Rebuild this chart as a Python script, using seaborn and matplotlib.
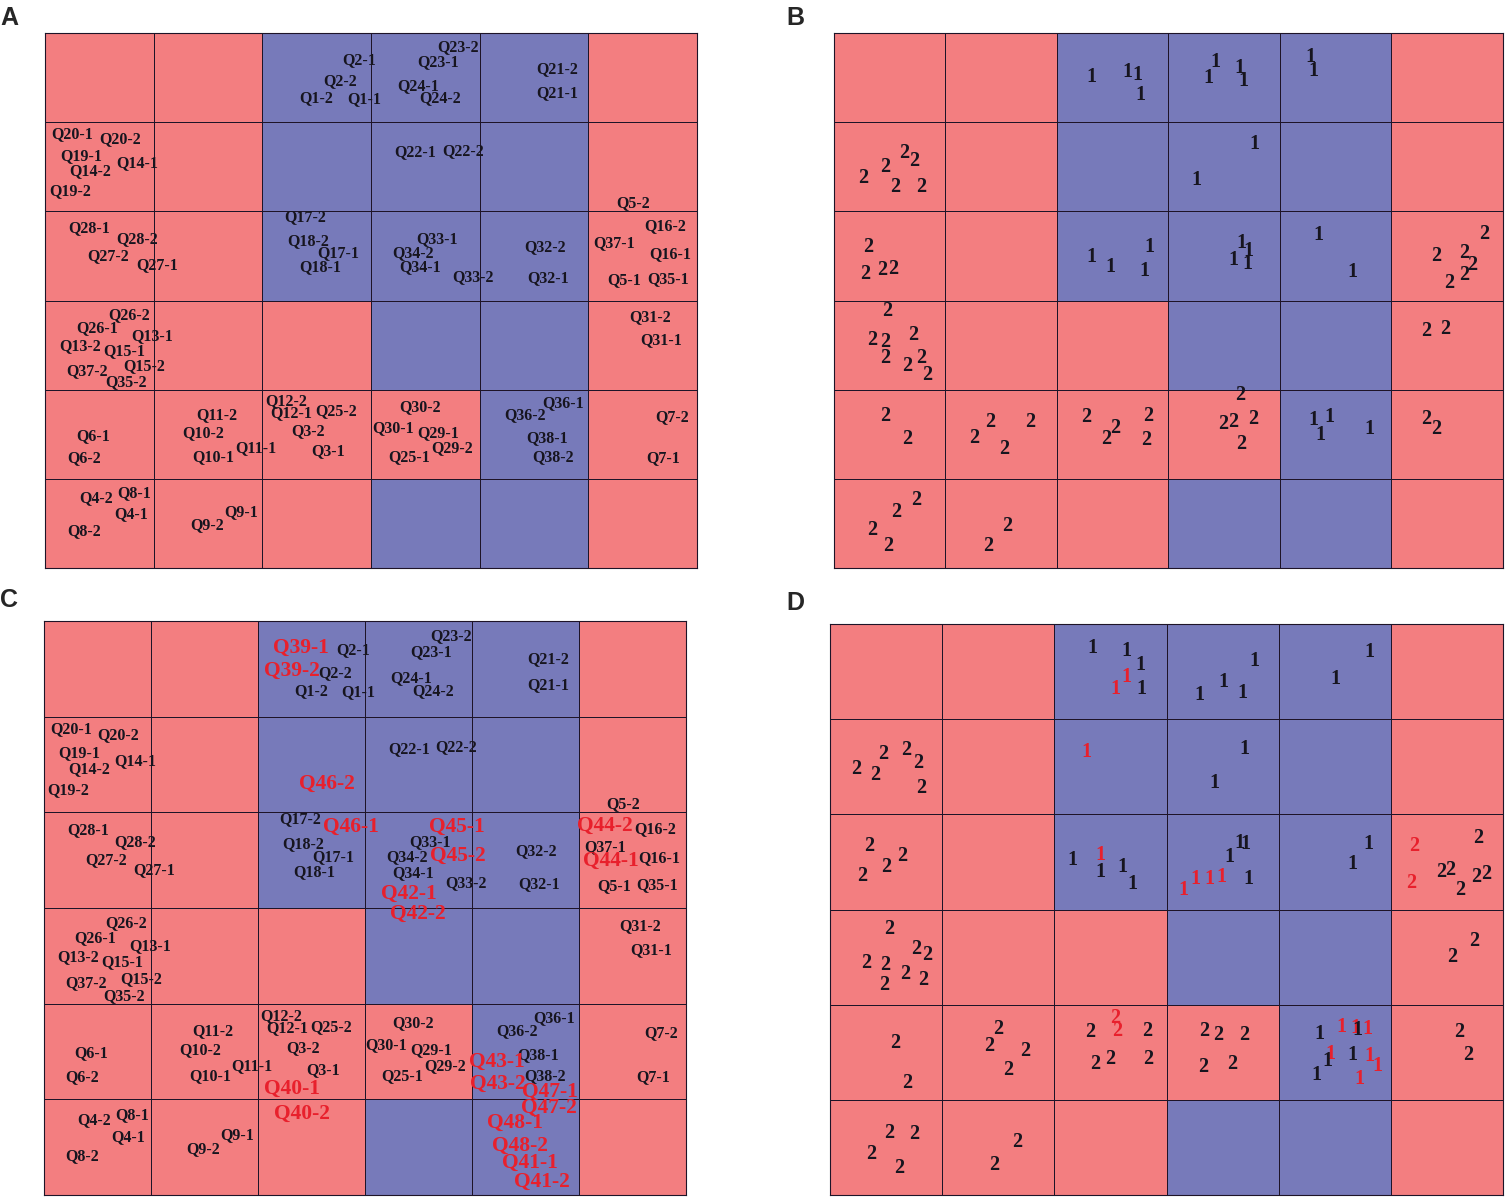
import numpy as np
import pandas as pd
import matplotlib
matplotlib.use("Agg")
import matplotlib.pyplot as plt
from matplotlib.colors import ListedColormap
import seaborn as sns

sns.set_style("white")
plt.rcParams['font.family'] = ['Liberation Serif', 'DejaVu Serif']

# ---- SOM cluster map (0 = cluster "2" pink, 1 = cluster "1" blue) ----
cluster_grid = [
    [0, 0, 1, 1, 1, 0],
    [0, 0, 1, 1, 1, 0],
    [0, 0, 1, 1, 1, 0],
    [0, 0, 0, 1, 1, 0],
    [0, 0, 0, 0, 1, 0],
    [0, 0, 0, 1, 1, 0],
]

# ---- Panel A labels (grid coordinates: column, row from top) ----
a_labels = ["Q2-1", "Q23-2", "Q23-1", "Q2-2", "Q24-1", "Q1-2", "Q1-1", "Q24-2", "Q21-2", "Q21-1",
            "Q20-1", "Q20-2", "Q19-1", "Q14-1", "Q14-2", "Q19-2", "Q22-1", "Q22-2", "Q5-2",
            "Q28-1", "Q28-2", "Q27-2", "Q27-1", "Q17-2", "Q18-2", "Q17-1", "Q18-1", "Q33-1",
            "Q34-2", "Q34-1", "Q33-2", "Q32-2", "Q32-1", "Q37-1", "Q16-2", "Q16-1", "Q5-1", "Q35-1",
            "Q26-2", "Q26-1", "Q13-1", "Q13-2", "Q15-1", "Q37-2", "Q15-2", "Q35-2", "Q31-2", "Q31-1",
            "Q12-2", "Q12-1", "Q25-2", "Q11-2", "Q10-2", "Q3-2", "Q11-1", "Q10-1", "Q3-1", "Q6-1", "Q6-2",
            "Q30-2", "Q30-1", "Q29-1", "Q29-2", "Q25-1", "Q36-1", "Q36-2", "Q38-1", "Q38-2", "Q7-2", "Q7-1",
            "Q4-2", "Q8-1", "Q4-1", "Q8-2", "Q9-1", "Q9-2"]
a_x = [2.89, 3.80, 3.62, 2.72, 3.43, 2.50, 2.94, 3.64, 4.71, 4.71,
       0.25, 0.69, 0.33, 0.85, 0.42, 0.23, 3.41, 3.85, 5.41,
       0.41, 0.85, 0.58, 1.03, 2.39, 2.42, 2.70, 2.53, 3.61,
       3.39, 3.45, 3.94, 4.60, 4.63, 5.24, 5.71, 5.75, 5.33, 5.73,
       0.77, 0.48, 0.99, 0.32, 0.73, 0.39, 0.91, 0.75, 5.57, 5.67,
       2.22, 2.27, 2.68, 1.58, 1.46, 2.42, 1.94, 1.55, 2.61, 0.44, 0.36,
       3.45, 3.20, 3.62, 3.75, 3.35, 4.77, 4.42, 4.62, 4.68, 5.77, 5.69,
       0.47, 0.82, 0.79, 0.36, 1.81, 1.49]
a_y = [0.30, 0.16, 0.33, 0.54, 0.60, 0.73, 0.74, 0.73, 0.40, 0.67,
       1.13, 1.19, 1.38, 1.46, 1.55, 1.77, 1.34, 1.32, 1.91,
       2.19, 2.31, 2.50, 2.60, 2.07, 2.33, 2.47, 2.62, 2.31,
       2.47, 2.63, 2.74, 2.40, 2.75, 2.36, 2.17, 2.48, 2.77, 2.76,
       3.16, 3.31, 3.40, 3.51, 3.57, 3.79, 3.74, 3.92, 3.19, 3.44,
       4.13, 4.26, 4.24, 4.29, 4.49, 4.46, 4.65, 4.76, 4.69, 4.52, 4.77,
       4.20, 4.43, 4.49, 4.65, 4.76, 4.15, 4.29, 4.54, 4.76, 4.31, 4.77,
       5.22, 5.16, 5.39, 5.59, 5.37, 5.52]

# ---- Panel C extra (red) labels ----
c_labels = ["Q39-1", "Q39-2", "Q46-2", "Q46-1", "Q45-1", "Q45-2", "Q44-2", "Q44-1", "Q42-1", "Q42-2",
            "Q40-1", "Q40-2", "Q43-1", "Q43-2", "Q47-1", "Q47-2", "Q48-1", "Q48-2", "Q41-1", "Q41-2"]
c_x = [2.40, 2.32, 2.64, 2.87, 3.86, 3.87, 5.24, 5.30, 3.41, 3.49,
       2.32, 2.41, 4.23, 4.24, 4.73, 4.72, 4.40, 4.45, 4.54, 4.65]
c_y = [0.28, 0.52, 1.70, 2.15, 2.15, 2.46, 2.14, 2.51, 2.85, 3.06,
       4.89, 5.15, 4.61, 4.84, 4.92, 5.09, 5.25, 5.49, 5.66, 5.86]

# ---- Panel B cluster digits ----
b_digit = (["1"] * 10 + ["2"] * 6 + ["1"] * 2 + ["2"] * 4 + ["1"] * 10 + ["2"] * 6 +
           ["2"] * 10 + ["2"] * 16 + ["1"] * 4 + ["2"] * 2 + ["2"] * 6)
b_x = [2.31, 2.63, 2.72, 2.75, 3.42, 3.36, 3.64, 3.67, 4.27, 4.30,
       0.26, 0.46, 0.63, 0.72, 0.55, 0.78, 3.77, 3.25,
       0.31, 0.28, 0.43, 0.53, 2.31, 2.48, 2.83, 2.78, 3.65, 3.72, 3.58, 3.71, 4.34, 4.65,
       5.83, 5.40, 5.65, 5.72, 5.65, 5.52,
       0.48, 0.34, 0.46, 0.71, 0.46, 0.66, 0.78, 0.84, 5.31, 5.48,
       0.46, 0.66, 1.40, 1.26, 1.76, 1.53, 2.26, 2.52, 2.44, 2.82, 2.80, 3.64, 3.49, 3.58, 3.76, 3.65,
       4.30, 4.44, 4.36, 4.80, 5.31, 5.40,
       0.74, 0.56, 0.34, 0.49, 1.55, 1.38]
b_y = [0.49, 0.44, 0.47, 0.70, 0.32, 0.51, 0.39, 0.54, 0.27, 0.43,
       1.63, 1.50, 1.35, 1.44, 1.73, 1.73, 1.24, 1.65,
       2.40, 2.70, 2.66, 2.65, 2.51, 2.62, 2.40, 2.67, 2.35, 2.44, 2.55, 2.59, 2.26, 2.68,
       2.25, 2.50, 2.47, 2.60, 2.71, 2.80,
       3.12, 3.44, 3.46, 3.39, 3.65, 3.74, 3.65, 3.83, 3.34, 3.32,
       4.30, 4.55, 4.36, 4.54, 4.36, 4.67, 4.31, 4.43, 4.55, 4.29, 4.57, 4.06, 4.39, 4.36, 4.33, 4.61,
       4.34, 4.31, 4.51, 4.44, 4.33, 4.44,
       5.24, 5.37, 5.57, 5.75, 5.53, 5.75]

# ---- Panel D cluster digits (red = added questions) ----
d_digit = ["1", "1", "1", "1", "1", "1", "1", "1", "1", "1", "1", "1",
           "2", "2", "2", "2", "2", "2", "1", "1", "1",
           "2", "2", "2", "2", "1", "1", "1", "1", "1", "1", "1", "1", "1", "1", "1", "1", "1",
           "1", "1", "2", "2", "2", "2", "2", "2", "2", "2",
           "2", "2", "2", "2", "2", "2", "2", "2", "2", "2",
           "2", "2", "2", "2", "2", "2", "2", "2", "2", "2", "2", "2", "2", "2", "2", "2", "2", "2",
           "1", "1", "1", "1", "1", "1", "1", "1", "1", "1", "1", "1", "2", "2",
           "2", "2", "2", "2", "2", "2"]
d_x = [2.34, 2.64, 2.77, 2.64, 2.54, 2.78, 3.78, 3.51, 3.29, 3.68, 4.81, 4.51,
       0.23, 0.40, 0.47, 0.68, 0.79, 0.81, 2.29, 3.69, 3.43,
       0.35, 0.29, 0.50, 0.64, 2.16, 2.41, 2.41, 2.61, 2.70, 3.65, 3.70, 3.56, 3.15, 3.26, 3.38, 3.49, 3.73,
       4.80, 4.66, 5.21, 5.18, 5.78, 5.45, 5.53, 5.62, 5.76, 5.85,
       0.53, 0.32, 0.49, 0.48, 0.77, 0.87, 0.67, 0.83, 5.55, 5.74,
       0.58, 0.69, 1.50, 1.42, 1.74, 1.59, 2.32, 2.54, 2.56, 2.83, 2.36, 2.50, 2.84, 3.34, 3.46, 3.69, 3.33, 3.59,
       4.36, 4.56, 4.68, 4.70, 4.79, 4.46, 4.43, 4.66, 4.81, 4.88, 4.34, 4.72, 5.61, 5.69,
       0.53, 0.75, 0.37, 0.62, 1.67, 1.46]
d_y = [0.25, 0.28, 0.43, 0.56, 0.68, 0.68, 0.39, 0.61, 0.75, 0.73, 0.29, 0.58,
       1.52, 1.59, 1.37, 1.32, 1.46, 1.72, 1.34, 1.31, 1.67,
       2.33, 2.65, 2.55, 2.44, 2.48, 2.43, 2.61, 2.55, 2.73, 2.30, 2.31, 2.45, 2.79, 2.68, 2.68, 2.66, 2.68,
       2.31, 2.52, 2.33, 2.72, 2.25, 2.61, 2.59, 2.80, 2.66, 2.63,
       3.21, 3.56, 3.58, 3.79, 3.42, 3.48, 3.68, 3.74, 3.50, 3.33,
       4.40, 4.82, 4.26, 4.43, 4.49, 4.69, 4.29, 4.14, 4.28, 4.28, 4.62, 4.57, 4.57, 4.28, 4.32, 4.32, 4.66, 4.62,
       4.31, 4.23, 4.25, 4.27, 4.26, 4.52, 4.59, 4.53, 4.54, 4.64, 4.74, 4.78, 4.29, 4.53,
       5.35, 5.36, 5.57, 5.72, 5.44, 5.69]
d_red = [0, 0, 0, 1, 1, 0, 0, 0, 0, 0, 0, 0,
         0, 0, 0, 0, 0, 0, 1, 0, 0,
         0, 0, 0, 0, 0, 1, 0, 0, 0, 0, 0, 0, 1, 1, 1, 1, 0,
         0, 0, 1, 1, 0, 0, 0, 0, 0, 0,
         0, 0, 0, 0, 0, 0, 0, 0, 0, 0,
         0, 0, 0, 0, 0, 0, 0, 1, 1, 0, 0, 0, 0, 0, 0, 0, 0, 0,
         0, 1, 1, 0, 1, 1, 0, 0, 1, 1, 0, 1, 0, 0,
         0, 0, 0, 0, 0, 0]

panel_letters = ["A", "B", "C", "D"]

PINK = "#F37E80"
BLUE = "#777ABA"
LINE = "#1e1428"
TXT = "#17151f"
RED = "#E8202C"

fig = plt.figure(figsize=(15.08, 11.99), dpi=100)
W, H = 1508, 1199
boxes = [(45, 33, 697, 568), (834, 33, 1503, 568), (44, 621, 686, 1195), (830, 624, 1503, 1195)]
letter_pos = [(0, 18), (786, 18), (0, 600), (786, 603)]

grid_df = pd.DataFrame(cluster_grid)
axes = []
for (x0, y0, x1, y1) in boxes:
    ax = fig.add_axes([x0 / W, 1 - y1 / H, (x1 - x0) / W, (y1 - y0) / H])
    sns.heatmap(grid_df, ax=ax, cmap=ListedColormap([PINK, BLUE]), cbar=False,
                linewidths=0.6, linecolor=LINE, xticklabels=False, yticklabels=False,
                vmin=0, vmax=1)
    ax.set_xlim(0, 6)
    ax.set_ylim(6, 0)
    for s in ax.spines.values():
        s.set_visible(True)
        s.set_color(LINE)
        s.set_linewidth(0.8)
    axes.append(ax)

axA, axB, axC, axD = axes
lab_kw = dict(ha="center", va="center", fontsize=11.5, fontweight="bold", color=TXT)
for ax in (axA, axC):
    for t, x, y in zip(a_labels, a_x, a_y):
        ax.text(x, y, t, **lab_kw)
for t, x, y in zip(c_labels, c_x, c_y):
    axC.text(x, y, t, ha="center", va="center", fontsize=15.5, fontweight="bold", color=RED)

dig_kw = dict(ha="center", va="center", fontsize=14.5, fontweight="bold")
for t, x, y in zip(b_digit, b_x, b_y):
    axB.text(x, y, t, color=TXT, **dig_kw)
for t, x, y, r in zip(d_digit, d_x, d_y, d_red):
    axD.text(x, y, t, color=RED if r else TXT, **dig_kw)

for L, (lx, ly) in zip(panel_letters, letter_pos):
    fig.text(lx / W, 1 - ly / H, L, ha="left", va="center", fontsize=18,
             fontweight="bold", family=["Liberation Sans", "DejaVu Sans"])

fig.savefig("out.png", dpi=100)
